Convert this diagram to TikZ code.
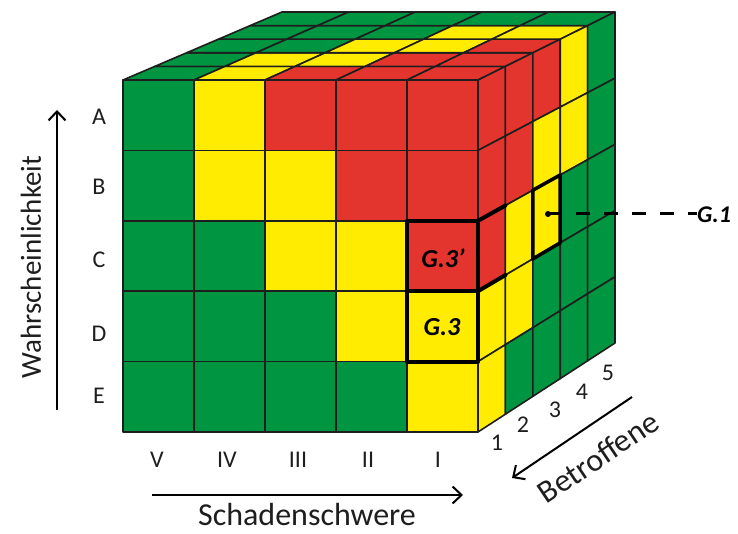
\documentclass[tikz,border=0pt]{standalone}
\usepackage{fontspec}
\setmainfont{Carlito}
\usetikzlibrary{arrows.meta,calc}
\definecolor{cG}{RGB}{0,149,64}
\definecolor{cY}{RGB}{255,236,0}
\definecolor{cR}{RGB}{228,52,46}
\definecolor{ink}{RGB}{30,30,30}
\tikzset{
  face/.style={draw=ink,line width=1.6pt,line join=round},
  hl/.style={draw=black,line width=4pt,line join=round,line cap=round},
  lbl/.style={font=\fontsize{24}{28}\selectfont,text=ink,inner sep=0pt},
  ttl/.style={font=\fontsize{32}{38}\selectfont,text=ink,inner sep=0pt},
  gl/.style={font=\fontsize{26}{30}\selectfont\bfseries\itshape,text=black,inner sep=0pt},
  axis/.style={draw=black,line width=2pt,-{Straight Barb[length=9pt,width=17pt,line width=2pt]}},
  leader/.style={draw=black,line width=3pt,dash pattern=on 14pt off 14pt},
}
\begin{document}
\begin{tikzpicture}[x=1pt,y=-1pt,
  declare function={px(\x,\y,\z)=123+71*\x+(159-4.4*\x)*\z/5;
                    py(\x,\y,\z)=80+70.4*\y-(68+4.2*\y)*\z/5;}]
\useasboundingbox (0,0) rectangle (738,534);
% grid points
\foreach \ii in {0,...,5}{\foreach \jj in {0,...,5}{\foreach \kk in {0,...,5}{
  \coordinate (p-\ii-\jj-\kk) at ({px(\ii,\jj,\kk)},{py(\ii,\jj,\kk)});
}}}
% top face
\foreach \row [count=\ki from 0] in {{G,Y,R,R,R},{G,Y,Y,R,R},{G,G,Y,Y,R},{G,G,G,Y,Y},{G,G,G,G,G}}{
  \foreach \col [count=\ci from 0] in \row {
    \pgfmathtruncatemacro{\cc}{\ci+1}\pgfmathtruncatemacro{\kn}{\ki+1}
    \path[face,fill=c\col] (p-\ci-0-\ki) -- (p-\cc-0-\ki) -- (p-\cc-0-\kn) -- (p-\ci-0-\kn) -- cycle;
  }
}
% right face
\foreach \row [count=\ri from 0] in {{R,R,R,Y,G},{R,R,Y,Y,G},{R,Y,Y,G,G},{Y,Y,G,G,G},{Y,G,G,G,G}}{
  \foreach \col [count=\ki from 0] in \row {
    \pgfmathtruncatemacro{\rn}{\ri+1}\pgfmathtruncatemacro{\kn}{\ki+1}
    \path[face,fill=c\col] (p-5-\ri-\ki) -- (p-5-\ri-\kn) -- (p-5-\rn-\kn) -- (p-5-\rn-\ki) -- cycle;
  }
}
% front face
\foreach \row [count=\ri from 0] in {{G,Y,R,R,R},{G,Y,Y,R,R},{G,G,Y,Y,R},{G,G,G,Y,Y},{G,G,G,G,Y}}{
  \foreach \col [count=\ci from 0] in \row {
    \pgfmathtruncatemacro{\cc}{\ci+1}\pgfmathtruncatemacro{\rn}{\ri+1}
    \path[face,fill=c\col] (p-\ci-\ri-0) -- (p-\cc-\ri-0) -- (p-\cc-\rn-0) -- (p-\ci-\rn-0) -- cycle;
  }
}
% highlights
\draw[hl] (p-4-2-0) rectangle (p-5-4-0);
\draw[hl] (p-4-3-0) -- (p-5-3-0);
\draw[hl] (p-5-2-0) -- (p-5-2-1);
\draw[hl] (p-5-3-0) -- (p-5-3-1);
\draw[hl,line width=3.5pt] (p-5-2-2) -- (p-5-2-3) -- (p-5-3-3) -- (p-5-3-2) -- cycle;
\node[gl] (g3p) at (443,258) {G.3'};
\node[gl] (g3) at (442,327) {G.3};
% G.1 leader
\coordinate (g1dot) at (548,214);
\node[gl,font=\fontsize{24}{28}\selectfont\bfseries\itshape,anchor=west] (g1) at (697,215) {G.1};
\fill[black] (g1dot) circle (3pt);
\draw[leader] (g1dot) -- (g1dot -| g1.west);
% row labels
\node[lbl] (rA) at (99,117) {A};
\node[lbl] (rB) at (99,187) {B};
\node[lbl] (rC) at (99,260) {C};
\node[lbl] (rD) at (99,334) {D};
\node[lbl] (rE) at (99,396) {E};
% column labels
\node[lbl] (cV) at (157,460) {V};
\node[lbl] (cIV) at (227,460) {IV};
\node[lbl] (cIII) at (298,460) {III};
\node[lbl] (cII) at (368,460) {II};
\node[lbl] (cI) at (438,460) {I};
% depth labels
\node[lbl] (b1) at (497,443) {1};
\node[lbl] (b2) at (523,425) {2};
\node[lbl] (b3) at (555,410) {3};
\node[lbl] (b4) at (582,392) {4};
\node[lbl] (b5) at (608,373) {5};
% axes
\coordinate (wS) at (57,410); \coordinate (wE) at (57,110);
\draw[axis] (wS) -- (wE);
\node[ttl,font=\fontsize{29}{34}\selectfont,rotate=90] (wt) at (31,267) {Wahrscheinlichkeit};
\coordinate (sS) at (152,495); \coordinate (sE) at (463,495);
\draw[axis] (sS) -- (sE);
\node[ttl] (st) at (307,515) {Schadenschwere};
\coordinate (bS) at (632,397); \coordinate (bE) at (512,478);
\draw[axis] (bS) -- (bE);
\node[ttl,rotate=34] (bt) at (598,457) {Betroffene};
\end{tikzpicture}
\end{document}
